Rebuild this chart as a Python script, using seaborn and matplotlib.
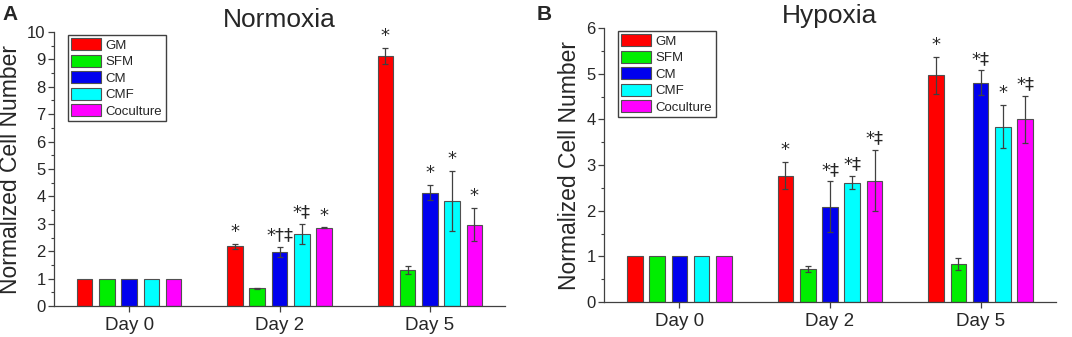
import matplotlib
matplotlib.use("Agg")
import matplotlib.pyplot as plt
import numpy as np
import pandas as pd
import seaborn as sns
from matplotlib.ticker import MultipleLocator

days = ["Day 0", "Day 2", "Day 5"]
groups = ["GM", "SFM", "CM", "CMF", "Coculture"]
colors = ["#ff0000", "#00ee00", "#0000ee", "#00ffff", "#ff00ff"]

# per group: values for Day 0, Day 2, Day 5
norm_mean = [[1, 2.18, 9.13], [1, 0.65, 1.31], [1, 1.97, 4.14], [1, 2.63, 3.84], [1, 2.85, 2.97]]
norm_err = [[0, 0.09, 0.30], [0, 0.02, 0.14], [0, 0.17, 0.28], [0, 0.37, 1.10], [0, 0.02, 0.60]]
norm_marks = [["", "*", "*"], ["", "", ""], ["", "*†‡", "*"], ["", "*‡", "*"], ["", "*", "*"]]

hyp_mean = [[1, 2.77, 4.96], [1, 0.72, 0.83], [1, 2.09, 4.80], [1, 2.61, 3.84], [1, 2.66, 4.00]]
hyp_err = [[0, 0.29, 0.40], [0, 0.07, 0.14], [0, 0.55, 0.27], [0, 0.14, 0.47], [0, 0.67, 0.52]]
hyp_marks = [["", "*", "*"], ["", "", ""], ["", "*‡", "*‡"], ["", "*‡", "*"], ["", "*‡", "*‡"]]


def to_frame(means):
    rows = []
    for g, vals in zip(groups, means):
        for d, v in zip(days, vals):
            rows.append({"day": d, "group": g, "value": v})
    return pd.DataFrame(rows)


sns.set_theme(style="ticks")
plt.rcParams["font.family"] = ["Liberation Sans", "DejaVu Sans"]
edge = "#505050"


def draw_panel(ax, means, errs, marks, title, ymax, letter, letter_x):
    df = to_frame(means)
    sns.barplot(data=df, x="day", y="value", hue="group", order=days,
                hue_order=groups, palette=colors, width=0.74, gap=0.3,
                edgecolor=edge, linewidth=0.8, saturation=1, errorbar=None, ax=ax)
    for cont, e_list, m_list in zip(ax.containers, errs, marks):
        for bar, e, m in zip(cont, e_list, m_list):
            xc = bar.get_x() + bar.get_width() / 2
            h = bar.get_height()
            if e > 0:
                ax.errorbar(xc, h, yerr=e, color="#404040", capsize=2.5,
                            elinewidth=0.9, capthick=0.9)
            if m:
                ax.annotate(m, (xc, h + e), xytext=(0, 2), textcoords="offset points",
                            ha="center", va="bottom", fontsize=13,
                            family="DejaVu Sans", annotation_clip=False)
    ax.set_xlim(-0.5, 2.5)
    ax.set_ylim(0, ymax)
    ax.yaxis.set_major_locator(MultipleLocator(1))
    ax.yaxis.set_minor_locator(MultipleLocator(0.5))
    sns.despine(ax=ax)
    for s in ("left", "bottom"):
        ax.spines[s].set_color("#404040")
        ax.spines[s].set_linewidth(0.9)
    ax.tick_params(axis="both", which="major", length=4, width=0.9, color="#404040",
                   labelsize=12, pad=2)
    ax.tick_params(axis="y", which="minor", length=2.5, width=0.8, color="#404040")
    ax.tick_params(axis="x", labelsize=13.5, pad=4)
    ax.set_xlabel("")
    ax.set_ylabel("Normalized Cell Number", fontsize=16.5, labelpad=4)
    ax.set_title(title, fontsize=19, pad=2)
    handles, labels = ax.get_legend_handles_labels()
    ax.legend(handles, labels, loc="upper left", bbox_to_anchor=(0.03, 0.99),
              fontsize=9.5, frameon=True, fancybox=False, edgecolor="#404040",
              framealpha=1, handlelength=2.3, handleheight=1.05,
              labelspacing=0.22, handletextpad=0.35, borderpad=0.25,
              borderaxespad=0)
    ax.figure.text(letter_x, 0.985, letter, fontsize=15, fontweight="bold",
                   ha="left", va="top")


fig = plt.figure(figsize=(10.72, 3.37), dpi=100)
ax1 = fig.add_axes([54 / 1072, 31 / 337, 451 / 1072, 274 / 337])
ax2 = fig.add_axes([604 / 1072, 35 / 337, 452 / 1072, 274 / 337])

draw_panel(ax1, norm_mean, norm_err, norm_marks, "Normoxia", 10, "A", 0.002)
draw_panel(ax2, hyp_mean, hyp_err, hyp_marks, "Hypoxia", 6, "B", 0.501)

fig.savefig("out.png", dpi=100)
